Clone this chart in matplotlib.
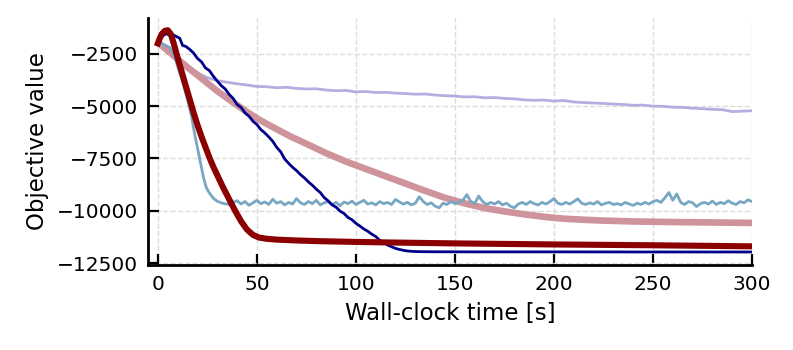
"""
Objective value vs wall-clock time for five solver runs.
"""
import matplotlib
matplotlib.use("Agg")
import matplotlib.pyplot as plt

# ── Data ─────────────────────────────────────────────────────────────────────

# lavender run: fast initial drop, then slow drift
lav_t = [0, 3, 6, 9, 12, 15, 18, 21, 24, 27] + list(range(30, 301, 5))
lav_y = [-1950, -2150, -2400, -2650, -2900, -3100, -3300, -3450, -3600, -3700,
         -3780, -3860, -3930, -3990, -4060, -4070, -4120, -4100, -4150, -4180,
         -4170, -4230, -4260, -4250, -4320, -4300, -4350, -4340, -4380, -4400,
         -4430, -4420, -4470, -4500, -4520, -4560, -4550, -4600, -4590, -4630,
         -4650, -4700, -4720, -4710, -4760, -4730, -4800, -4830, -4850, -4870,
         -4900, -4920, -4960, -4950, -5000, -5010, -5050, -5060, -5100, -5120,
         -5150, -5170, -5260, -5240, -5220]

# pink run: smooth, slow convergence
pink_t = [0, 5, 10, 15, 20, 25, 30, 35, 40, 45, 50, 55, 60, 67, 75, 85, 95,
          105, 115, 125, 135, 145, 155, 165, 175, 185, 195, 205, 215, 225,
          240, 260, 280, 300]
pink_y = [-1950, -2350, -2750, -3150, -3520, -3900, -4280, -4620, -4950, -5280,
          -5580, -5850, -6100, -6450, -6800, -7250, -7650, -8000, -8350, -8700,
          -9050, -9380, -9650, -9870, -10030, -10170, -10290, -10380, -10430,
          -10470, -10510, -10540, -10560, -10580]

# steel-blue run: very fast drop, then noisy plateau
blue_t = [0, 3, 6, 9, 12, 15, 17, 18.5, 20, 21.5, 23, 24.5, 26, 28, 30, 33] \
    + list(range(36, 301, 2))
blue_y = [-2000, -2050, -2200, -2800, -3700, -4700, -5500, -6300, -7000, -7700,
          -8400, -8900, -9150, -9400, -9550, -9650,
          -9700, -9600, -9520, -9680, -9560, -9740, -9620, -9500, -9660, -9580,
          -9700, -9450, -9640, -9560, -9720, -9600, -9680, -9420, -9620, -9700,
          -9560, -9660, -9500, -9720, -9620, -9560, -9700, -9600, -9760, -9580,
          -9660, -9540, -9700, -9600, -9500, -9680, -9620, -9720, -9560, -9660,
          -9600, -9700, -9460, -9580, -9680, -9600, -9720, -9640, -9330, -9560,
          -9700, -9620, -9780, -9860, -9640, -9700, -9560, -9660, -9600, -9500,
          -9230, -9560, -9650, -9300, -9560, -9700, -9600, -9680, -9560, -9720,
          -9640, -9780, -9860, -9680, -9600, -9700, -9560, -9660, -9720, -9600,
          -9680, -9560, -9420, -9640, -9700, -9600, -9680, -9560, -9430, -9640,
          -9700, -9620, -9680, -9560, -9720, -9640, -9600, -9700, -9660, -9720,
          -9600, -9680, -9740, -9640, -9700, -9600, -9680, -9560, -9500, -9600,
          -9380, -9130, -9500, -9200, -9600, -9700, -9560, -9620, -9800, -9660,
          -9600, -9680, -9540, -9700, -9600, -9660, -9520, -9640, -9700, -9560,
          -9620, -9480, -9560]

# navy run: near-linear descent to the best final value
navy_t = [0, 1.5, 3, 4.5, 6, 7.5, 9.5, 11, 12.5, 14, 16, 18, 20, 22, 24, 26,
          28, 30, 32, 34, 36, 38, 40, 42, 44, 46, 48, 50, 52, 54, 56, 58, 60,
          62, 64, 66, 68, 70, 72, 74, 76, 78, 80, 82, 84, 86, 88, 90, 92, 94,
          96, 98, 100, 102, 104, 106, 108, 110, 112, 114, 116, 118, 120, 122,
          125, 128, 132, 140, 160, 200, 250, 300]
navy_y = [-2000, -1750, -1600, -1540, -1620, -1580, -1680, -1750, -2100, -2140,
          -2280, -2460, -2720, -2880, -3170, -3300, -3570, -3800, -4020, -4180,
          -4440, -4630, -4920, -5060, -5320, -5480, -5720, -5880, -6120, -6280,
          -6470, -6680, -6970, -7180, -7520, -7730, -7920, -8080, -8270, -8430,
          -8620, -8780, -8970, -9130, -9370, -9530, -9720, -9830, -10020, -10130,
          -10320, -10430, -10600, -10730, -10870, -10980, -11120, -11230, -11410,
          -11500, -11640, -11720, -11800, -11850, -11910, -11940, -11955, -11960,
          -11965, -11965, -11970, -11970]

# dark-red run: overshoot, steep drop, early plateau
red_t = [0, 1, 2, 3.5, 5, 6.5, 8, 10, 12, 14, 16, 18, 20, 22, 24, 26, 28, 30,
         33, 36, 39, 42, 45, 48, 51, 55, 60, 70, 80, 100, 120, 150, 200, 250, 300]
red_y = [-2000, -1750, -1550, -1400, -1370, -1550, -2000, -2700, -3350, -4000,
         -4650, -5300, -5900, -6450, -6950, -7450, -7900, -8300, -8900, -9450,
         -10000, -10500, -10900, -11150, -11280, -11340, -11380, -11420, -11450,
         -11490, -11520, -11560, -11610, -11650, -11700]

X_TICKS = [0, 50, 100, 150, 200, 250, 300]
Y_TICKS = [-12500, -10000, -7500, -5000, -2500]


# ── Plot ─────────────────────────────────────────────────────────────────────

fig = plt.figure(figsize=(7.93, 3.5), dpi=100)
ax = fig.add_axes([0.1866, 0.243, 0.7617, 0.706])

ax.plot(lav_t, lav_y, color="#b4aee0", lw=2.0)
ax.plot(pink_t, pink_y, color="#cf939b", lw=4.8, solid_capstyle="butt")
ax.plot(blue_t, blue_y, color="#78a7c4", lw=2.0)
ax.plot(navy_t, navy_y, color="#00008b", lw=2.0)
ax.plot(red_t, red_y, color="#8b0000", lw=4.4)

ax.set_xlim(-5, 300)
ax.set_ylim(-12590, -780)
ax.set_xticks(X_TICKS)
ax.set_yticks(Y_TICKS)

ax.grid(True, ls="--", color="#dcdcdc", lw=1.0)
ax.set_axisbelow(True)

for side in ("top", "right"):
    ax.spines[side].set_visible(False)
for side in ("left", "bottom"):
    ax.spines[side].set_linewidth(2.0)

ax.tick_params(direction="in", length=8, width=1.6, labelsize=14.5, pad=7)
ax.set_xlabel("Wall-clock time [s]", fontsize=16.5, labelpad=6)
ax.set_ylabel("Objective value", fontsize=16.5, labelpad=6)

fig.savefig("out.png", dpi=100)
